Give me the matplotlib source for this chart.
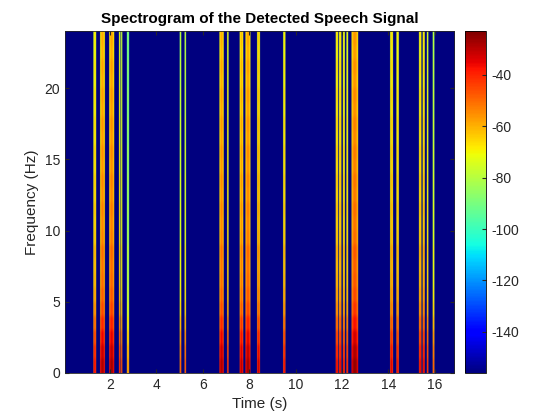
import numpy as np
import matplotlib
matplotlib.use("Agg")
import matplotlib.pyplot as plt

plt.rcParams['font.family'] = ['Liberation Sans', 'DejaVu Sans']
plt.rcParams['axes.unicode_minus'] = False

# speech bursts: start / end time (s) and level at low frequency (dB)
burst_start = [1.28, 1.57, 1.96, 2.38, 2.47, 2.72, 4.99, 5.20, 6.70, 7.03, 7.57, 7.82,
               8.32, 9.44, 11.70, 11.84, 12.01, 12.16, 12.38, 14.04, 14.31, 15.28,
               15.44, 15.62, 15.87]
burst_end = [1.40, 1.77, 2.17, 2.44, 2.52, 2.81, 5.06, 5.26, 6.88, 7.09, 7.72, 8.03,
             8.44, 9.54, 11.80, 11.94, 12.09, 12.23, 12.66, 14.16, 14.41, 15.38,
             15.53, 15.68, 15.94]
burst_level = [-36, -28, -27, -38, -42, -54, -46, -44, -28, -38, -30, -27,
               -32, -36, -34, -34, -36, -38, -25, -34, -36, -34,
               -34, -40, -46]

# level drop with frequency (dB), one value per 1 Hz band, 0..24 Hz
freq_drop = [0, -3, -7, -12, -17, -20, -22, -23, -22, -25, -26, -25, -27,
             -26, -28, -27, -29, -28, -30, -29, -31, -30, -32, -31, -32]

background = -160
clim = (-156, -23)

t_grid = np.arange(0.0, 17.0, 0.005)
f_grid = np.arange(0.0, 24.0, 0.5)
band_idx = np.minimum(f_grid.astype(int), 24)
drop = np.array(freq_drop, dtype=float)[band_idx]

spec = np.full((len(f_grid), len(t_grid)), float(background))
for t0, t1, lev in zip(burst_start, burst_end, burst_level):
    c = 0.5 * (t0 + t1)
    h = 0.5 * (t1 - t0)
    cols = (t_grid >= t0) & (t_grid <= t1)
    taper = -14.0 * ((t_grid[cols] - c) / h) ** 2
    spec[:, cols] = lev + drop[:, None] + taper[None, :]

fig = plt.figure(figsize=(5.6, 4.2), dpi=100)
ax = fig.add_axes([0.116, 0.112, 0.695, 0.814])
cax = fig.add_axes([0.830, 0.112, 0.038, 0.814])

im = ax.imshow(spec, origin='lower', aspect='auto', cmap='jet',
               extent=[t_grid[0], t_grid[-1] + 0.005, 0, 24],
               vmin=clim[0], vmax=clim[1], interpolation='antialiased')
ax.set_xlim(0.06, 16.83)
ax.set_ylim(0, 24)
ax.set_xticks(np.arange(2, 17, 2))
ax.set_yticks([0, 5, 10, 15, 20])
ax.tick_params(direction='in', top=True, right=True, length=3,
               labelsize=10, colors='#262626')
for s in ax.spines.values():
    s.set_color('#262626')
    s.set_linewidth(0.6)
ax.set_xlabel('Time (s)', fontsize=11, color='#262626')
ax.set_ylabel('Frequency (Hz)', fontsize=11, color='#262626')
ax.set_title('Spectrogram of the Detected Speech Signal', fontsize=11,
             fontweight='bold', color='black')

cb = fig.colorbar(im, cax=cax)
cb.set_ticks(np.arange(-140, -39, 20))
cb.ax.tick_params(direction='in', length=3, labelsize=10, colors='#262626')
cb.outline.set_linewidth(0.6)

fig.savefig('out.png', dpi=100)
